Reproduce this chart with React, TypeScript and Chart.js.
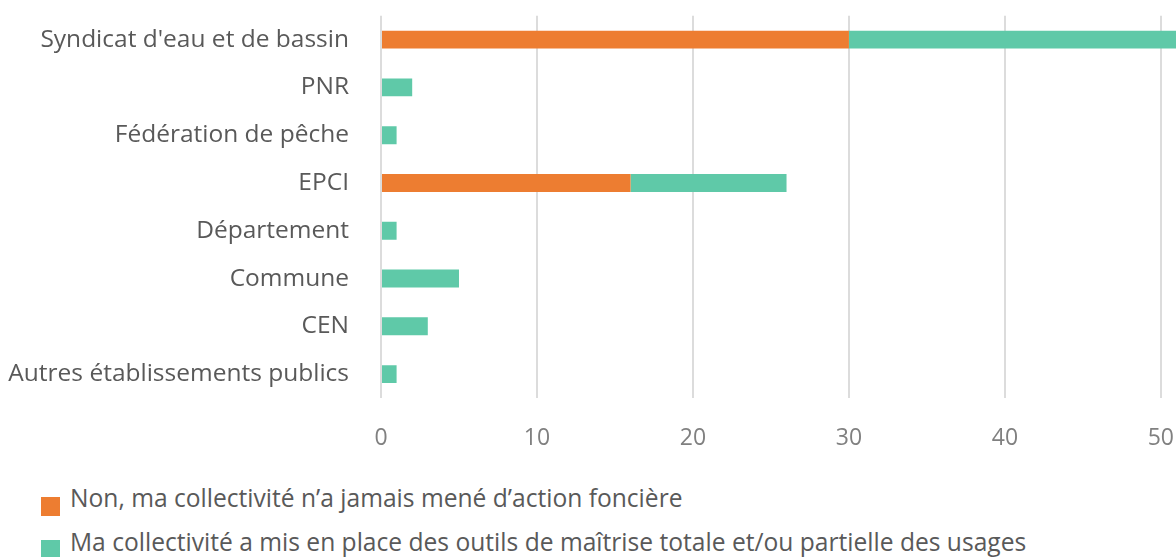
import React, { useEffect, useRef } from "react";
import { Chart, registerables } from "chart.js";

Chart.register(...registerables);

const categories = [
  "Syndicat d'eau et de bassin",
  "PNR",
  "Fédération de pêche",
  "EPCI",
  "Département",
  "Commune",
  "CEN",
  "Autres établissements publics",
];
const seriesNames = [
  "Non, ma collectivité n’a jamais mené d’action foncière",
  "Ma collectivité a mis en place des outils de maîtrise totale et/ou partielle des usages",
];
const nonValues = [30, 0, 0, 16, 0, 0, 0, 0];
const outilsValues = [25, 2, 1, 10, 1, 5, 3, 1];
const xTicks = [0, 10, 20, 30, 40, 50, 60];

const ORANGE = "#ED7D31";
const GREEN = "#5FC9A8";
const FONT = "'Open Sans', 'Noto Sans', sans-serif";

export default function App() {
  const ref = useRef<HTMLCanvasElement | null>(null);
  useEffect(() => {
    if (!ref.current) return;
    const chart = new Chart(ref.current, {
      type: "bar",
      data: {
        labels: categories,
        datasets: [
          { label: seriesNames[0], data: nonValues, backgroundColor: ORANGE, barPercentage: 0.75, categoryPercentage: 0.5 },
          { label: seriesNames[1], data: outilsValues, backgroundColor: GREEN, barPercentage: 0.75, categoryPercentage: 0.5 },
        ],
      },
      options: {
        indexAxis: "y",
        animation: false,
        responsive: false,
        maintainAspectRatio: false,
        layout: { padding: { top: 14, left: 0, right: 28, bottom: 0 } },
        plugins: { legend: { display: false }, tooltip: { enabled: false } },
        scales: {
          x: {
            stacked: true,
            min: 0,
            max: xTicks[xTicks.length - 1],
            afterBuildTicks: (s: any) => { s.ticks = xTicks.map((v) => ({ value: v })); },
            afterFit: (s: any) => { s.height = 72; },
            grid: { color: "#dcdcdc", lineWidth: 2, drawTicks: false },
            border: { display: false },
            ticks: { color: "#808080", font: { family: FONT, size: 23 }, padding: 27 },
          },
          y: {
            stacked: true,
            afterFit: (s: any) => { s.width = 381; },
            grid: { display: false, drawTicks: false },
            border: { display: false },
            ticks: { color: "#595959", font: { family: FONT, size: 24.5 }, padding: 32 },
          },
        },
      },
    });
    return () => chart.destroy();
  }, []);

  const legendText: React.CSSProperties = {
    position: "absolute",
    left: 70,
    fontFamily: FONT,
    fontSize: 24.6,
    lineHeight: "30px",
    color: "#595959",
    whiteSpace: "nowrap",
  };
  return (
    <div style={{ position: "fixed", left: 0, top: 0, width: 1176, height: 557, overflow: "hidden", background: "#fff" }}>
      <canvas ref={ref} width={1357} height={501} style={{ position: "absolute", left: 0, top: -31 }} />
      <div style={{ position: "absolute", left: 41, top: 497, width: 19, height: 19, background: ORANGE }} />
      <div style={{ ...legendText, top: 483 }}>{seriesNames[0]}</div>
      <div style={{ position: "absolute", left: 41, top: 540, width: 19, height: 19, background: GREEN }} />
      <div style={{ ...legendText, top: 527 }}>{seriesNames[1]}</div>
    </div>
  );
}
